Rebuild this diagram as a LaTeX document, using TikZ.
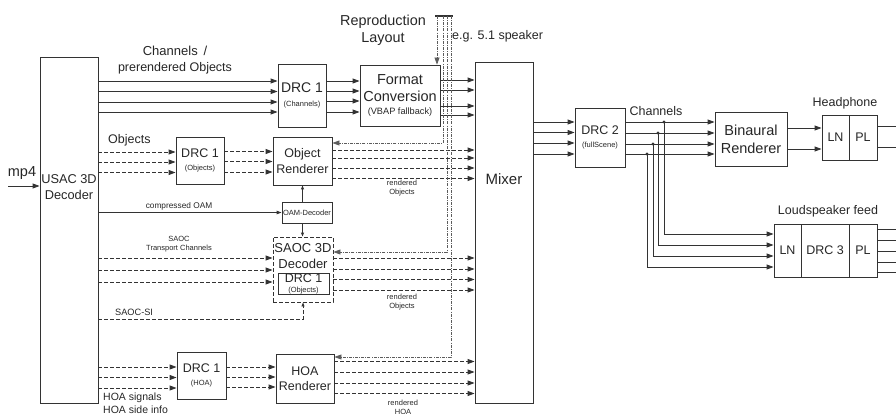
\documentclass[tikz,border=0pt]{standalone}
\usepackage{fontspec}
\setmainfont{Liberation Sans}
\usetikzlibrary{positioning, arrows.meta, calc}

\newcommand{\fbig}{\fontsize{14.5}{18}\selectfont}
\newcommand{\fmed}{\fontsize{12.5}{15.5}\selectfont}
\newcommand{\ftiny}{\fontsize{7.5}{9}\selectfont}
\newcommand{\fsm}{\fontsize{9.2}{11}\selectfont}
\definecolor{linegray}{HTML}{333333}
\definecolor{textgray}{HTML}{262626}

\begin{document}
\begin{tikzpicture}[x=1pt, y=-1pt,
		box/.style={draw=linegray, line width=0.9pt, inner sep=0pt, align=center, text=textgray, font=\fmed},
		dbox/.style={box, dash pattern=on 4pt off 2pt},
		arrow/.style={-{Triangle[length=7pt, width=5pt]}, draw=linegray, line width=0.9pt},
		darrow/.style={arrow, dash pattern=on 4pt off 2pt},
		wire/.style={draw=linegray, line width=0.9pt},
		layout/.style={draw=linegray!80, line width=0.6pt, dash pattern=on 3pt off 1.2pt on 0.8pt off 1.2pt},
		textnode/.style={align=center, text=textgray, inner sep=0pt, font=\fmed}
		]
		\useasboundingbox (0,0) rectangle (896,414);
		% Blocks
		\node[box, minimum width=58pt, minimum height=346pt] (usac) at (69,230) {};
		\node[textnode, font=\fontsize{12.8}{16}\selectfont] (usactxt) at (69,187) {USAC 3D\\Decoder};
		\node[box, minimum width=48pt, minimum height=63pt] (drcc) at (302,95.5) {{\fontsize{14}{14}\selectfont DRC 1}\\[-1pt]{\ftiny (Channels)}};
		\node[box, font=\fbig, minimum width=80pt, minimum height=61pt] (fmt) at (400,95.5) {Format\\[-1pt]Conversion\\[-5pt]{\fsm (VBAP fallback)}};
		\node[box, minimum width=58pt, minimum height=341pt] (mixer) at (504,232.5) {};
		\node[textnode, font=\fontsize{15}{18}\selectfont] (mixtxt) at (504,179) {Mixer};
		\node[box, minimum width=48pt, minimum height=47pt] (drco) at (200,160.5) {DRC 1\\[-3pt]{\ftiny (Objects)}};
		\node[box, minimum width=59pt, minimum height=48pt] (objr) at (302.5,161) {Object\\Renderer};
		\node[box, font=\ftiny, minimum width=50pt, minimum height=21pt] (oamd) at (307,212.5) {OAM-Decoder};
		\node[dbox, minimum width=60pt, minimum height=65pt] (saoc) at (303,269.5) {};
		\node[textnode, font=\fontsize{13}{16}\selectfont] (saoctxt) at (303,256) {SAOC 3D\\Decoder};
		\node[box, minimum width=51pt, minimum height=20pt] (drcs) at (303.5,284) {DRC 1\\[-5pt]{\ftiny (Objects)}};
		\node[box, minimum width=49pt, minimum height=47pt] (drch) at (201.5,375.5) {DRC 1\\[-3pt]{\ftiny (HOA)}};
		\node[box, minimum width=58pt, minimum height=49pt] (hoar) at (305,378.5) {HOA\\Renderer};
		\node[box, minimum width=50pt, minimum height=59pt] (drc2) at (600,137.5) {DRC 2\\[-3pt]{\ftiny (fullScene)}};
		\node[box, font=\fbig, minimum width=72pt, minimum height=54pt] (bin) at (751,139) {Binaural\\Renderer};
		\node[box, minimum width=27pt, minimum height=45pt] (hpln) at (835.5,137.5) {LN};
		\node[box, minimum width=28pt, minimum height=45pt] (hppl) at (863,137.5) {PL};
		\node[box, minimum width=27pt, minimum height=53pt] (lsln) at (787.5,250.5) {LN};
		\node[box, minimum width=48pt, minimum height=53pt] (lsdrc) at (825,250.5) {DRC 3};
		\node[box, minimum width=28pt, minimum height=53pt] (lspl) at (863,250.5) {PL};
		% Labels
		\node[textnode, font=\fbig] (mp4) at (22,173) {mp4};
		\node[textnode] (chlbl) at (175,60) {{\fontsize{13}{15.5}\selectfont Channels \,/}\\prerendered Objects};
		\node[textnode, anchor=west] (objlbl) at (108,140) {Objects};
		\node[textnode, font=\fontsize{8.3}{10}\selectfont] (oamlbl) at (179,206) {compressed OAM};
		\node[textnode, font=\ftiny] (tclbl) at (179,244.5) {SAOC\\Transport Channels};
		\node[textnode, font=\fsm, anchor=west] (silbl) at (115,312) {SAOC-SI};
		\node[textnode, font=\fontsize{10.5}{12.5}\selectfont, align=left, anchor=north west] (hoalbl) at (103,393) {HOA signals\\HOA side info};
		\node[textnode, font=\ftiny] (rend1) at (402,188) {rendered\\Objects};
		\node[textnode, font=\ftiny] (rend2) at (402,302.5) {rendered\\Objects};
		\node[textnode, font=\ftiny] (rend3) at (403,407) {rendered\\HOA};
		\node[textnode, font=\fontsize{14.4}{17}\selectfont] (rllbl) at (383,30.5) {Reproduction\\Layout};
		\node[textnode, anchor=west] (spklbl) at (452,36) {e.g. 5.1 speaker};
		\node[textnode] (chlbl2) at (656,111) {Channels};
		\node[textnode] (hplbl) at (845,103) {Headphone};
		\node[textnode] (lslbl) at (828,211) {Loudspeaker feed};
		% Input
		\coordinate (in) at (8,186);
		\draw[arrow] (in) -- (usac.west |- in);
		% Channel path
		\foreach \y in {81,91.5,102,112}
			\draw[arrow] (usac.east |- 0,\y) -- (drcc.west |- 0,\y);
		\foreach \y in {81,91,101,112}
			\draw[arrow] (drcc.east |- 0,\y) -- (fmt.west |- 0,\y);
		\foreach \y in {80,90,106,115}
			\draw[arrow] (fmt.east |- 0,\y) -- (mixer.west |- 0,\y);
		% Object path
		\foreach \y in {152,162,172.5}
			\draw[darrow] (usac.east |- 0,\y) -- (drco.west |- 0,\y);
		\foreach \y in {151.5,161.5,172}
			\draw[darrow] (drco.east |- 0,\y) -- (objr.west |- 0,\y);
		\foreach \y in {150,158,168,178.5}
			\draw[darrow] (objr.east |- 0,\y) -- (mixer.west |- 0,\y);
		% OAM
		\draw[arrow, -{Triangle[length=5pt, width=3.5pt]}] (usac.east |- oamd.west) -- (oamd.west);
		\draw[arrow, -{Triangle[length=4pt, width=3pt]}] (oamd.north -| objr.south) -- (objr.south);
		\draw[arrow, -{Triangle[length=4pt, width=3pt]}] (oamd.south -| objr.south) -- (saoc.north -| objr.south);
		% SAOC path
		\foreach \y in {258,270,282}
			\draw[darrow] (usac.east |- 0,\y) -- (saoc.west |- 0,\y);
		\foreach \y in {258,269,279.5,290}
			\draw[darrow] (saoc.east |- 0,\y) -- (mixer.west |- 0,\y);
		\draw[darrow, -{Triangle[length=4pt, width=3pt]}] (usac.east |- 0,319.5) -| (saoc.south);
		% HOA path
		\foreach \y in {367,377.5,388}
			\draw[darrow] (usac.east |- 0,\y) -- (drch.west |- 0,\y);
		\foreach \y in {367,377,387}
			\draw[darrow] (drch.east |- 0,\y) -- (hoar.west |- 0,\y);
		\foreach \y in {361.5,372,383,393.5}
			\draw[darrow] (hoar.east |- 0,\y) -- (mixer.west |- 0,\y);
		% Reproduction layout
		\draw[linegray, line width=2pt] (435,16) coordinate (rlw) -- (453,16) coordinate (rle);
		\draw[layout, -{Triangle[length=7pt, width=5pt]}] (437,16) -- (fmt.north -| 437,0);
		\draw[layout, -{Triangle[length=7pt, width=5pt]}] (443,16) |- (objr.east |- 0,143);
		\draw[layout, -{Triangle[length=7pt, width=5pt]}] (447,16) |- (saoc.east |- 0,252);
		\draw[layout, -{Triangle[length=7pt, width=5pt]}] (451,16) |- (hoar.east |- 0,357);
		% Mixer to DRC 2
		\foreach \y in {122,132.5,143,154}
			\draw[arrow] (mixer.east |- 0,\y) -- (drc2.west |- 0,\y);
		% DRC 2 to renderers
		\foreach \i/\x/\y/\t in {1/664/122/234, 2/658/133/245, 3/653/144/256, 4/647/154/267} {
			\coordinate (j\i) at (\x,\y);
			\draw[arrow] (drc2.east |- j\i) -- (bin.west |- j\i);
			\fill[linegray] (j\i) circle (1.6pt);
			\draw[arrow] (j\i) |- (lsln.west |- 0,\t);
		}
		\foreach \y in {128,149}
			\draw[arrow] (bin.east |- 0,\y) -- (hpln.west |- 0,\y);
		% Outputs
		\foreach \y in {126,147}
			\draw[wire] (hppl.east |- 0,\y) -- ++(20,0);
		\foreach \y in {229,240,251,262,272}
			\draw[wire] (lspl.east |- 0,\y) -- ++(20,0);
	\end{tikzpicture}
\end{document}
